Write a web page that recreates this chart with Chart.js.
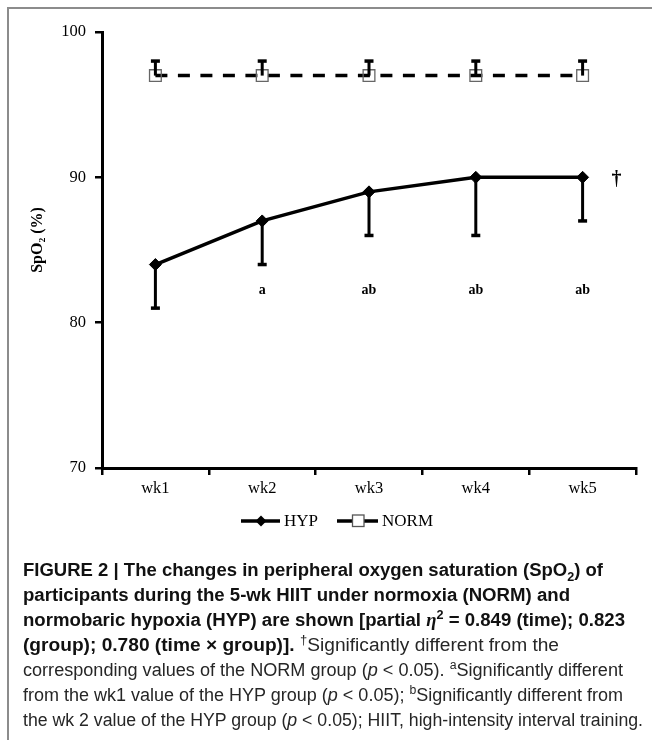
<!DOCTYPE html>
<html><head><meta charset="utf-8">
<script src="https://cdn.jsdelivr.net/npm/chart.js@4"></script>
<style>
html,body{margin:0;padding:0;background:#fff;}
body{width:652px;height:740px;position:relative;overflow:hidden;}
#frame{position:absolute;left:7px;top:7px;width:700px;height:800px;border-top:2px solid #8c8c8c;border-left:2px solid #8c8c8c;}
#wrap{position:absolute;left:0;top:0;width:652px;height:560px;}
.cap{position:absolute;left:23px;white-space:nowrap;font-family:"Liberation Sans",Arial,sans-serif;font-size:18px;line-height:25px;height:25px;color:#262626;transform-origin:0 50%;}
.b{font-weight:bold;color:#111;}
.cap sub,.cap sup{font-size:0.68em;line-height:0;}
</style></head>
<body>
<div id="frame"></div>
<div id="wrap"><canvas id="c" width="652" height="560"></canvas></div>
<div class="cap b" style="top:558px" data-w="580">FIGURE 2 | The changes in peripheral oxygen saturation (SpO<sub>2</sub>) of</div>
<div class="cap b" style="top:583px" data-w="547">participants during the 5-wk HIIT under normoxia (NORM) and</div>
<div class="cap b" style="top:608px" data-w="602">normobaric hypoxia (HYP) are shown [partial <i style="font-family:'Liberation Serif',serif">η</i><sup>2</sup> = 0.849 (time); 0.823</div>
<div class="cap" style="top:633px" data-w="536"><span class="b">(group); 0.780 (time × group)].</span> <sup>†</sup>Significantly different from the</div>
<div class="cap" style="top:658px" data-w="600">corresponding values of the NORM group (<i>p</i> &lt; 0.05). <sup>a</sup>Significantly different</div>
<div class="cap" style="top:683px" data-w="600">from the wk1 value of the HYP group (<i>p</i> &lt; 0.05); <sup>b</sup>Significantly different from</div>
<div class="cap" style="top:708px" data-w="620">the wk 2 value of the HYP group (<i>p</i> &lt; 0.05); HIIT, high-intensity interval training.</div>
<script>
// ---- data ----
const categories = ['wk1', 'wk2', 'wk3', 'wk4', 'wk5'];
const hypValues = [84, 87, 89, 90, 90];
const hypErrLower = [3, 3, 3, 4, 3];
const normValues = [97, 97, 97, 97, 97];
const normErrUpper = [1, 1, 1, 1, 1];
const sigLabels = ['', 'a', 'ab', 'ab', 'ab'];
const sigLabelValue = 82.2;
const daggerLabel = '†';
const daggerValue = 90;
const yMin = 70, yMax = 100, yStep = 10;
const seriesNames = ['HYP', 'NORM'];
const yTitle = '     SpO₂ (%)';

// fit caption lines
document.querySelectorAll('.cap').forEach(el => {
  const target = parseFloat(el.dataset.w);
  const w = el.getBoundingClientRect().width;
  el.style.transform = 'scaleX(' + (target / w) + ')';
});

const serif = '"Liberation Serif", "Times New Roman", serif';

const extrasPlugin = {
  id: 'extras',
  afterDatasetsDraw(chart) {
    const ctx = chart.ctx, xs = chart.scales.x, ys = chart.scales.y;
    ctx.save();
    ctx.strokeStyle = '#000';
    ctx.lineCap = 'butt';
    const bars = (vals, errs, dir) => {
      vals.forEach((v, i) => {
        const px = xs.getPixelForValue(i);
        const p0 = ys.getPixelForValue(v);
        const p1 = ys.getPixelForValue(v + dir * errs[i]);
        ctx.lineWidth = 3;
        ctx.beginPath(); ctx.moveTo(px, p0); ctx.lineTo(px, p1); ctx.stroke();
        ctx.lineWidth = 3.5;
        ctx.beginPath(); ctx.moveTo(px - 4.5, p1); ctx.lineTo(px + 4.5, p1); ctx.stroke();
      });
    };
    bars(hypValues, hypErrLower, -1);
    bars(normValues, normErrUpper, 1);
    // significance letters
    ctx.fillStyle = '#000';
    ctx.font = 'bold 14px ' + serif;
    ctx.textAlign = 'center';
    ctx.textBaseline = 'middle';
    sigLabels.forEach((t, i) => {
      if (t) ctx.fillText(t, xs.getPixelForValue(i), ys.getPixelForValue(sigLabelValue));
    });
    // dagger
    ctx.font = 'bold 20px ' + serif;
    ctx.fillText(daggerLabel, xs.getPixelForValue(categories.length - 1) + 34, ys.getPixelForValue(daggerValue) + 2);
    ctx.restore();
  },
  afterDraw(chart) {
    const ctx = chart.ctx;
    const ly = 521;
    ctx.save();
    ctx.strokeStyle = '#000';
    ctx.fillStyle = '#000';
    ctx.font = '17px ' + serif;
    ctx.textBaseline = 'middle';
    ctx.textAlign = 'left';
    // HYP item
    ctx.lineWidth = 3.5;
    ctx.beginPath(); ctx.moveTo(241, ly); ctx.lineTo(280, ly); ctx.stroke();
    ctx.beginPath();
    ctx.moveTo(261, ly - 5.5); ctx.lineTo(266.5, ly); ctx.lineTo(261, ly + 5.5); ctx.lineTo(255.5, ly); ctx.closePath();
    ctx.fill();
    ctx.fillText(seriesNames[0], 284, ly + 1);
    // NORM item
    ctx.beginPath(); ctx.moveTo(337, ly); ctx.lineTo(352, ly); ctx.stroke();
    ctx.beginPath(); ctx.moveTo(364, ly); ctx.lineTo(378, ly); ctx.stroke();
    ctx.lineWidth = 1.3;
    ctx.strokeStyle = '#555';
    ctx.strokeRect(352.5, ly - 6, 11.5, 11.5);
    ctx.fillText(seriesNames[1], 382, ly + 1);
    ctx.restore();
  }
};

new Chart(document.getElementById('c'), {
  type: 'line',
  data: {
    labels: categories,
    datasets: [
      {
        label: seriesNames[0], data: hypValues,
        borderColor: '#000', borderWidth: 3.5, tension: 0,
        pointStyle: 'rectRot', pointRadius: 6,
        pointBackgroundColor: '#000', pointBorderColor: '#000', pointBorderWidth: 1
      },
      {
        label: seriesNames[1], data: normValues,
        borderColor: '#000', borderWidth: 3.5, borderDash: [12, 10.5], tension: 0,
        pointStyle: 'rect', pointRadius: 8.3,
        pointBackgroundColor: 'rgba(0,0,0,0)', pointBorderColor: '#666', pointBorderWidth: 1.3
      }
    ]
  },
  options: {
    responsive: false,
    animation: false,
    events: [],
    layout: { padding: { left: 0, top: 32, right: 16, bottom: 56 } },
    plugins: { legend: { display: false }, tooltip: { enabled: false } },
    scales: {
      x: {
        type: 'category',
        offset: true,
        grid: { offset: true, drawOnChartArea: false, drawTicks: true, tickLength: 7, color: '#000', lineWidth: 2.5 },
        border: { display: true, color: '#000', width: 3 },
        ticks: { color: '#000', font: { family: serif, size: 16.5 }, padding: 4, maxRotation: 0 },
        afterFit(s) { s.height = 36; }
      },
      y: {
        min: yMin, max: yMax,
        grid: { drawOnChartArea: false, drawTicks: true, tickLength: 7, color: '#000', lineWidth: 2.5 },
        border: { display: true, color: '#000', width: 3 },
        ticks: { stepSize: yStep, color: '#000', font: { family: serif, size: 16.5 }, padding: 9 },
        title: { display: true, text: yTitle, color: '#000', font: { family: serif, size: 16, weight: 'bold' }, padding: { top: 28, bottom: 0 } },
        afterFit(s) { s.width = 102; }
      }
    }
  },
  plugins: [extrasPlugin]
});
</script>
</body></html>
